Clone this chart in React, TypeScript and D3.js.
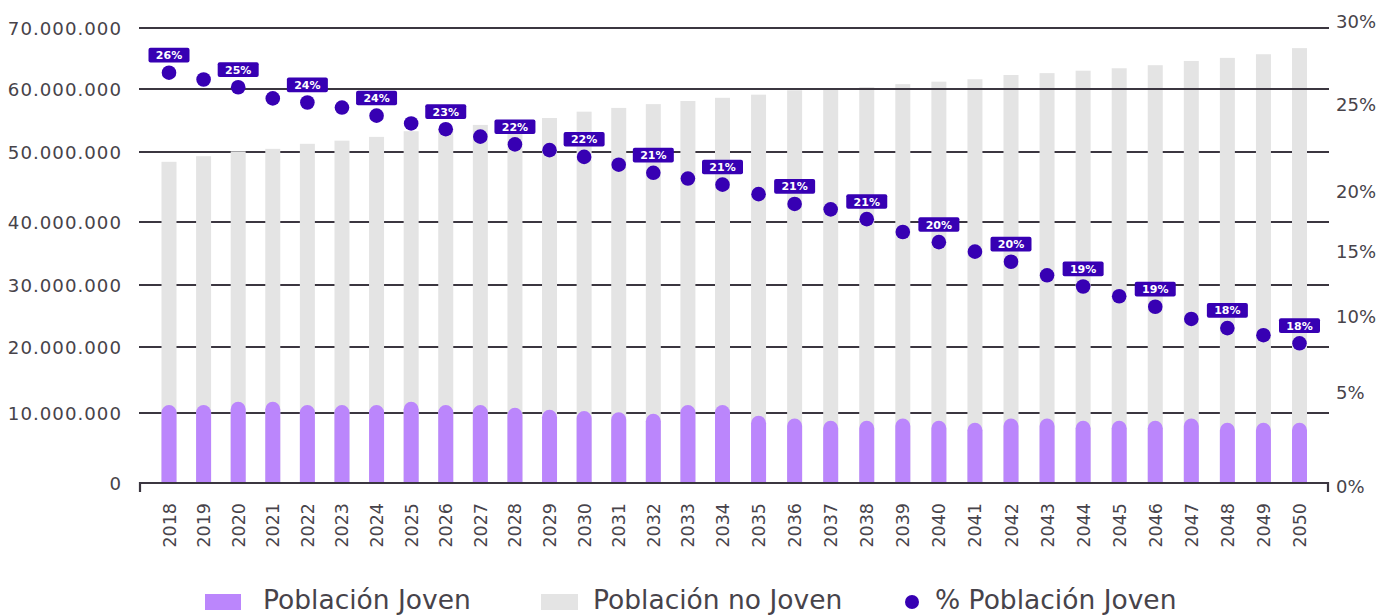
import { useRef, useEffect } from 'react';
import * as d3 from 'd3';

// Años
const years = [
  '2018', '2019', '2020', '2021', '2022', '2023', '2024', '2025', '2026', '2027', '2028',
  '2029', '2030', '2031', '2032', '2033', '2034', '2035', '2036', '2037', '2038', '2039',
  '2040', '2041', '2042', '2043', '2044', '2045', '2046', '2047', '2048', '2049', '2050',
];

// Millones de personas
const poblacionJoven = [
  11.2, 11.2, 11.7, 11.7, 11.2, 11.2, 11.2, 11.7, 11.2, 11.2, 10.8,
  10.5, 10.3, 10.1, 9.9, 11.2, 11.2, 9.6, 9.2, 8.9, 8.9, 9.2,
  8.9, 8.6, 9.2, 9.2, 8.9, 8.9, 8.9, 9.2, 8.6, 8.6, 8.6,
];
const poblacionNoJoven = [
  37.4, 38.2, 38.4, 38.8, 40.1, 40.6, 41.2, 41.6, 42.5, 43.1, 44.1,
  44.9, 46.1, 46.9, 47.7, 46.9, 47.4, 49.5, 50.6, 51.2, 51.4, 51.6,
  52.3, 53.0, 53.1, 53.4, 54.1, 54.5, 55.0, 55.4, 56.5, 57.1, 58.1,
];

// % población joven (puntos) y etiquetas mostradas
const pctJoven = [
  26.0, 25.8, 25.57, 25.24, 25.12, 24.97, 24.73, 24.5, 24.33, 24.11, 23.88,
  23.71, 23.51, 23.28, 23.04, 22.87, 22.69, 22.41, 22.12, 21.96, 21.67, 21.29,
  20.99, 20.71, 20.41, 20.01, 19.68, 19.39, 19.08, 18.72, 18.45, 18.24, 18.0,
];
const pctLabels = [
  '26%', '', '25%', '', '24%', '', '24%', '', '23%', '', '22%',
  '', '22%', '', '21%', '', '21%', '', '21%', '', '21%', '',
  '20%', '', '20%', '', '19%', '', '19%', '', '18%', '', '18%',
];

const leftTicks = [0, 10, 20, 30, 40, 50, 60, 70];
const rightTicks = [0, 5, 10, 15, 20, 25, 30];

const legendItems = ['Población Joven', 'Población no Joven', '% Población Joven'];

const PURPLE = '#bb86fc';
const GREY = '#e4e4e4';
const DARK = '#3700b3';
const LINE = '#3b3640';
const TEXT = '#47434a';
const FONT = "'DejaVu Sans', sans-serif";

function App() {
  const ref = useRef<SVGSVGElement | null>(null);

  useEffect(() => {
    const el = ref.current;
    if (!el) return;
    const svg = d3.select(el);
    svg.selectAll('*').remove();

    const left = 139;
    const right = 1329;

    // the source picture is slightly uneven, so the scales follow its ticks
    const x = d3.scaleLinear().domain([2018, 2034, 2050]).range([169, 722.5, 1299.5]);
    const y = d3.scaleLinear().domain(leftTicks).range([483, 413, 347, 285, 222, 152, 89, 28]);
    const yRight = d3.scaleLinear().domain(rightTicks).range([487, 393, 317, 252, 192, 105, 22]);
    const yPct = d3.scaleLinear().domain([18, 26]).range([343.3, 72.7]);

    const bw = 15;
    const r = bw / 2;
    const es = d3.formatLocale({ decimal: ',', thousands: '.', grouping: [3], currency: ['', '€'] });
    const fmt = es.format(',');

    const data = years.map((yr, i) => ({
      year: +yr,
      label: yr,
      joven: poblacionJoven[i],
      total: poblacionJoven[i] + poblacionNoJoven[i],
      pct: pctJoven[i],
      pctLabel: pctLabels[i],
    }));

    // gridlines under the bars
    svg.append('g')
      .selectAll('line')
      .data(leftTicks.filter(t => t > 0 && t <= 50))
      .join('line')
      .attr('x1', left).attr('x2', right)
      .attr('y1', d => y(d)).attr('y2', d => y(d))
      .attr('stroke', LINE).attr('stroke-width', 2.2);

    // grey bars (total)
    svg.append('g')
      .selectAll('rect')
      .data(data)
      .join('rect')
      .attr('x', d => x(d.year) - r)
      .attr('width', bw)
      .attr('y', d => y(d.total))
      .attr('height', d => y(0) - y(d.total))
      .attr('fill', GREY);

    // purple bars, round top
    svg.append('g')
      .selectAll('path')
      .data(data)
      .join('path')
      .attr('d', d => {
        const x0 = x(d.year) - r;
        const yt = y(d.joven);
        const yb = y(0);
        return `M${x0},${yb}V${yt + r}A${r},${r} 0 0 1 ${x0 + bw},${yt + r}V${yb}Z`;
      })
      .attr('fill', PURPLE);

    // upper gridlines and baseline drawn over the bars
    svg.append('g')
      .selectAll('line')
      .data(leftTicks.filter(t => t === 0 || t > 50))
      .join('line')
      .attr('x1', left).attr('x2', right)
      .attr('y1', d => y(d)).attr('y2', d => y(d))
      .attr('stroke', LINE).attr('stroke-width', 2.2);

    svg.append('g')
      .selectAll('line')
      .data([left + 1, right - 1])
      .join('line')
      .attr('x1', d => d).attr('x2', d => d)
      .attr('y1', y(0) - 1).attr('y2', y(0) + 9)
      .attr('stroke', LINE).attr('stroke-width', 2.2);

    // left axis labels
    svg.append('g')
      .selectAll('text')
      .data(leftTicks)
      .join('text')
      .attr('x', 122)
      .attr('y', d => y(d))
      .attr('dy', '0.36em')
      .attr('text-anchor', 'end')
      .attr('font-family', FONT)
      .attr('font-size', 18.2)
      .attr('letter-spacing', 1)
      .attr('fill', TEXT)
      .text(d => fmt(d * 1e6));

    // right axis labels
    svg.append('g')
      .selectAll('text')
      .data(rightTicks)
      .join('text')
      .attr('x', 1336)
      .attr('y', d => yRight(d))
      .attr('dy', '0.36em')
      .attr('font-family', FONT)
      .attr('font-size', 18)
      .attr('fill', TEXT)
      .text(d => `${d}%`);

    // x labels
    svg.append('g')
      .selectAll('text')
      .data(data)
      .join('text')
      .attr('transform', d => `translate(${x(d.year) + 6.5},503) rotate(-90)`)
      .attr('text-anchor', 'end')
      .attr('font-family', FONT)
      .attr('font-size', 17.5)
      .attr('fill', TEXT)
      .text(d => d.label);

    // % dots
    svg.append('g')
      .selectAll('circle')
      .data(data)
      .join('circle')
      .attr('cx', d => x(d.year))
      .attr('cy', d => yPct(d.pct))
      .attr('r', 7.3)
      .attr('fill', DARK);

    const tags = svg.append('g')
      .selectAll('g')
      .data(data.filter(d => d.pctLabel))
      .join('g')
      .attr('transform', d => `translate(${x(d.year)},${yPct(d.pct)})`);
    tags.append('rect')
      .attr('x', -20.5).attr('y', -25)
      .attr('width', 41).attr('height', 14.7)
      .attr('rx', 2)
      .attr('fill', DARK);
    tags.append('text')
      .attr('y', -17.6)
      .attr('dy', '0.36em')
      .attr('text-anchor', 'middle')
      .attr('font-family', FONT)
      .attr('font-weight', 'bold')
      .attr('font-size', 11)
      .attr('fill', '#fff')
      .text(d => d.pctLabel);

    // legend
    const lg = svg.append('g').attr('font-family', FONT).attr('font-size', 26.5).attr('fill', TEXT);
    lg.append('rect').attr('x', 205).attr('y', 594).attr('width', 36).attr('height', 16).attr('fill', PURPLE);
    lg.append('text').attr('x', 263).attr('y', 609).text(legendItems[0]);
    lg.append('rect').attr('x', 541).attr('y', 594).attr('width', 37).attr('height', 16).attr('fill', GREY);
    lg.append('text').attr('x', 593).attr('y', 609).text(legendItems[1]);
    lg.append('circle').attr('cx', 912).attr('cy', 602).attr('r', 7).attr('fill', DARK);
    lg.append('text').attr('x', 935).attr('y', 609).text(legendItems[2]);
  }, []);

  return (
    <svg
      ref={ref}
      width={1394}
      height={615}
      style={{ position: 'absolute', left: 0, top: 0, background: '#fff' }}
    />
  );
}

export default App;
